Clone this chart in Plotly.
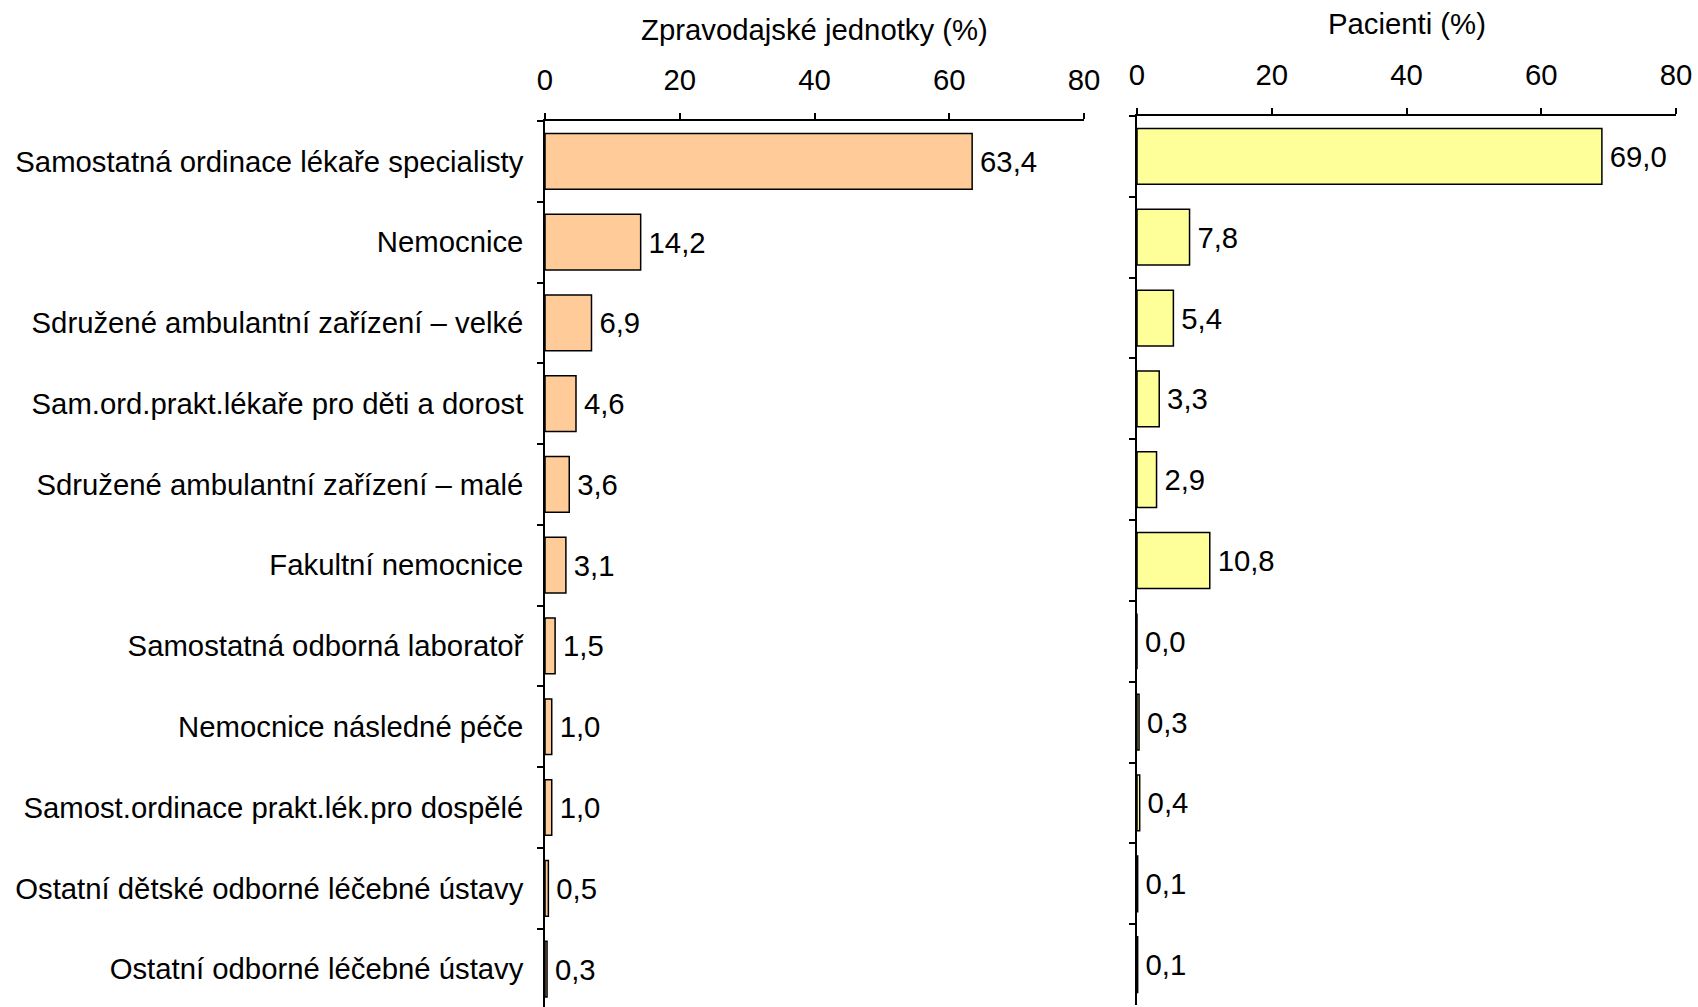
import plotly.graph_objects as go

categories = [
    "Samostatná ordinace lékaře specialisty",
    "Nemocnice",
    "Sdružené ambulantní zařízení – velké",
    "Sam.ord.prakt.lékaře pro děti a dorost",
    "Sdružené ambulantní zařízení – malé",
    "Fakultní nemocnice",
    "Samostatná odborná laboratoř",
    "Nemocnice následné péče",
    "Samost.ordinace prakt.lék.pro dospělé",
    "Ostatní dětské odborné léčebné ústavy",
    "Ostatní odborné léčebné ústavy",
]
jednotky = [63.4, 14.2, 6.9, 4.6, 3.6, 3.1, 1.5, 1.0, 1.0, 0.5, 0.3]
pacienti = [69.0, 7.8, 5.4, 3.3, 2.9, 10.8, 0.0, 0.3, 0.4, 0.1, 0.1]
x_ticks = [0, 20, 40, 60, 80]
title_left = "Zpravodajské jednotky (%)"
title_right = "Pacienti (%)"

FONT = "Liberation Sans, Arial, sans-serif"
FS = 29.3
W, H = 1698, 1007

fig = go.Figure()
fig.add_trace(go.Bar(
    y=categories, x=jednotky, orientation="h",
    marker=dict(color="#FFCC99", line=dict(color="black", width=1.5)),
    width=0.69,
    texttemplate="\u2006%{x:.1f}", textposition="outside",
    textfont=dict(family=FONT, size=FS, color="black"),
    constraintext="none", cliponaxis=False,
    xaxis="x", yaxis="y", showlegend=False, hoverinfo="skip",
))
fig.add_trace(go.Bar(
    y=categories, x=pacienti, orientation="h",
    marker=dict(color="#FFFF99", line=dict(color="black", width=1.5)),
    width=0.69,
    texttemplate="\u2006%{x:.1f}", textposition="outside",
    textfont=dict(family=FONT, size=FS, color="black"),
    constraintext="none", cliponaxis=False,
    xaxis="x2", yaxis="y2", showlegend=False, hoverinfo="skip",
))

xcommon = dict(
    side="top", range=[0, 80], tickvals=x_ticks, ticks="outside", ticklen=6,
    tickwidth=1.5, tickcolor="black", showline=True, linecolor="black",
    linewidth=1.5, showgrid=False, zeroline=False, automargin=False,
    tickfont=dict(family=FONT, size=FS, color="black"), ticklabelstandoff=12,
)
ycommon = dict(
    type="category", ticks="outside", ticklen=6, tickwidth=1.5,
    tickcolor="black", tickson="boundaries", showline=True, linecolor="black",
    linewidth=1.5, showgrid=False, zeroline=False, automargin=False,
)

fig.update_layout(
    width=W, height=H,
    margin=dict(l=0, r=0, t=0, b=0),
    paper_bgcolor="white", plot_bgcolor="white",
    separators=", ",
    font=dict(family=FONT, size=FS, color="black"),
    bargap=0.3,
    xaxis=dict(domain=[545 / W, 1084 / W], anchor="y", **xcommon),
    yaxis=dict(domain=[0, 1 - 121 / H], anchor="x", range=[10.47, -0.5],
               showticklabels=True, ticklabelstandoff=14,
               tickfont=dict(family=FONT, size=FS, color="black"), **ycommon),
    xaxis2=dict(domain=[1137 / W, 1676 / W], anchor="y2", **xcommon),
    yaxis2=dict(domain=[2 / H, 1 - 116 / H], anchor="x2", range=[10.5, -0.5],
                showticklabels=False, **ycommon),
    annotations=[
        dict(text=title_left, x=(545 + 1084) / 2 / W, y=1 - 29 / H,
             xref="paper", yref="paper", xanchor="center", yanchor="middle",
             showarrow=False, font=dict(family=FONT, size=FS, color="black")),
        dict(text=title_right, x=(1137 + 1676) / 2 / W, y=1 - 23 / H,
             xref="paper", yref="paper", xanchor="center", yanchor="middle",
             showarrow=False, font=dict(family=FONT, size=FS, color="black")),
    ],
)

fig.write_html(
    "out.html",
    config={"responsive": False, "displayModeBar": False},
    post_script="document.body.style.margin='0';document.body.style.overflow='hidden';",
)
